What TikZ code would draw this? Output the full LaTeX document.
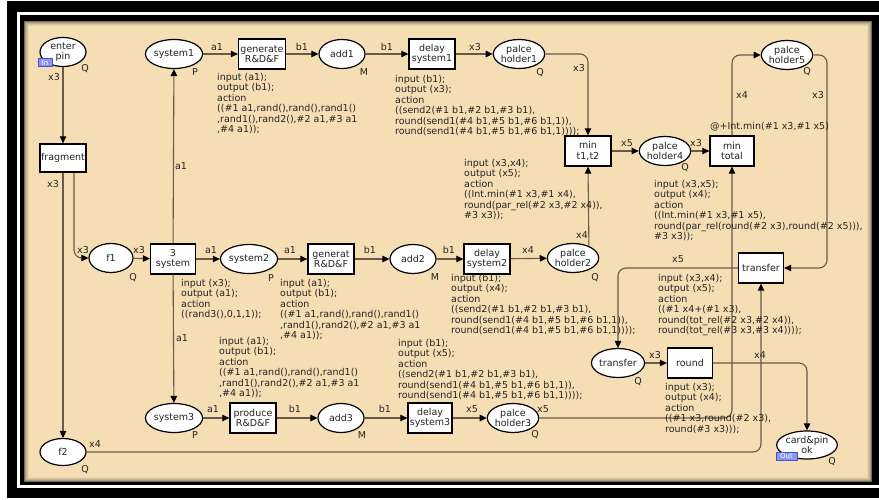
\documentclass[tikz,border=0pt]{standalone}
\usepackage{fontspec}
\setmainfont{DejaVu Sans}
\usetikzlibrary{shapes.geometric,arrows.meta}
\definecolor{beige}{RGB}{246,222,180}
\definecolor{linec}{RGB}{105,90,72}
\definecolor{txtc}{RGB}{35,35,35}
\definecolor{tagfill}{RGB}{140,150,235}
\definecolor{tagdraw}{RGB}{70,80,215}
\newcommand\cpnf{\fontsize{9.5}{10.4}\selectfont}
\tikzset{
  place/.style={ellipse, draw=black, line width=1.2pt, fill=white, inner sep=0pt,
    minimum width=46pt, minimum height=29pt, align=center, font=\cpnf, text=txtc},
  trans/.style={rectangle, draw=black, line width=1.3pt, fill=white, inner sep=0pt,
    minimum width=46pt, minimum height=30pt, align=center, font=\cpnf, text=txtc},
  arc/.style={draw=linec, line width=1.1pt,
    -{Triangle[length=7pt,width=6.5pt,color=black,fill=black]}},
  bent/.style={arc, rounded corners=8pt},
  lab/.style={font=\cpnf, inner sep=0pt, text=txtc},
  ann/.style={font=\cpnf, align=left, anchor=north west, inner sep=0pt, text=txtc},
  iotag/.style={rectangle, fill=tagfill, draw=tagdraw, line width=0.7pt, inner sep=0.6pt,
    minimum height=8pt, font=\fontsize{7}{7}\selectfont, text=white}
}
\begin{document}
\begin{tikzpicture}[x=1pt,y=-1pt]
\useasboundingbox (0,0) rectangle (879,500);
% frame
\fill[white] (0,0) rectangle (879,500);
\fill[black] (7,1) rectangle (879,498);
\draw[white, line width=2.5pt] (882,13.5) -- (18.5,13.5) -- (18.5,486.5) -- (882,486.5);
\fill[beige] (24,21) rectangle (872,482);
\foreach \i/\o in {0.5/0.5,1.5/0.32,2.5/0.2,3.5/0.11,4.5/0.05}
  \draw[black, opacity=\o, line width=1pt] (24+\i,21+\i) rectangle (872-\i,482-\i);

% places
\node[place] (enterpin) at (63,52) {enter\\pin};
\node[place] (system1) at (174,54) {system1};
\node[place] (add1) at (342,54) {add1};
\node[place] (ph1) at (519,54) {palce\\holder1};
\node[place] (ph5) at (787,55) {palce\\holder5};
\node[place] (ph4) at (665,151) {palce\\holder4};
\node[place, minimum width=44pt] (f1) at (111,258) {f1};
\node[place] (system2) at (249,259) {system2};
\node[place] (add2) at (413,259) {add2};
\node[place, minimum width=47pt] (ph2) at (573,258) {palce\\holder2};
\node[place] (transferP) at (618,363) {transfer};
\node[place] (system3) at (174,418) {system3};
\node[place] (add3) at (341,418) {add3};
\node[place] (ph3) at (513,418) {palce\\holder3};
\node[place, minimum height=27pt] (f2) at (63,452) {f2};
\node[place, minimum width=51pt, minimum height=28pt] (card) at (807,445) {card\&pin\\ok};

% transitions
\node[trans, minimum height=28pt] (fragment) at (63,158) {fragment};
\node[trans, minimum width=47pt] (gen1) at (262,54) {generate\\R\&D\&F};
\node[trans] (delay1) at (432,54) {delay\\system1};
\node[trans] (mint12) at (588,151) {min\\t1,t2};
\node[trans, minimum width=44pt] (mintotal) at (732,151) {min\\total};
\node[trans, minimum width=45pt] (sys3) at (173,259) {3\\system};
\node[trans] (gen2) at (331,259) {generat\\R\&D\&F};
\node[trans] (delay2) at (487,259) {delay\\system2};
\node[trans, minimum width=45pt] (transferT) at (761,268) {transfer};
\node[trans, minimum width=45pt] (round) at (690,363) {round};
\node[trans] (prod) at (253,418) {produce\\R\&D\&F};
\node[trans, minimum width=44pt] (delay3) at (430,418) {delay\\system3};

% io tags
\node[iotag, minimum width=14pt] (intag) at (45,62.5) {In};
\node[iotag, minimum width=21pt] (outtag) at (786.5,456) {Out};

% arcs
\draw[arc] (enterpin) -- (fragment);
\draw[arc] (fragment.south) -- (f2.north);
\draw[bent] ([xshift=11pt]fragment.south) -- ([xshift=11pt]fragment.south |- f1.west) -- (f1.west);
\draw[arc] (f1) -- (sys3);
\draw[arc] (sys3) -- (system1);
\draw[arc] (sys3) -- (system2);
\draw[arc] (sys3) -- (system3);
\draw[arc] (system1) -- (gen1);
\draw[arc] (gen1) -- (add1);
\draw[arc] (add1) -- (delay1);
\draw[arc] (delay1) -- (ph1);
\draw[bent] (ph1.east) -- (mint12.north |- ph1.east) -- (mint12.north);
\draw[arc] (system2) -- (gen2);
\draw[arc] (gen2) -- (add2);
\draw[arc] (add2) -- (delay2);
\draw[arc] (delay2) -- (ph2);
\draw[arc] (ph2.37) -- (mint12.south);
\draw[arc] (mint12) -- (ph4);
\draw[arc] (ph4) -- (mintotal);
\draw[bent] (mintotal.north) -- (mintotal.north |- ph5.west) -- (ph5.west);
\draw[bent] (ph5.east) -- (827,55) -- (827,268) -- (transferT.east);
\draw[bent] (transferT.west) -- (transferP.north |- transferT.west) -- (transferP.north);
\draw[arc] (transferP) -- (round);
\draw[bent] (round.east) -- (card.north |- round.east) -- (card.north);
\draw[bent] (ph3.east) -- (mintotal.south |- ph3.east) -- (mintotal.south);
\draw[bent] (f2.east) -- (transferT.south |- f2.east) -- (transferT.south);
\draw[arc] (system3) -- (prod);
\draw[arc] (prod) -- (add3);
\draw[arc] (add3) -- (delay3);
\draw[arc] (delay3) -- (ph3);

% arc labels
\node[lab] (l1) at (54,77) {x3};
\node[lab] (l2) at (53,184) {x3};
\node[lab] (l3) at (83,250) {x3};
\node[lab] (l4) at (139,250) {x3};
\node[lab] (l5) at (181,166) {a1};
\node[lab] (l6) at (211,250) {a1};
\node[lab] (l7) at (182,338) {a1};
\node[lab] (l8) at (217,47) {a1};
\node[lab] (l9) at (302,47) {b1};
\node[lab] (l10) at (387,47) {b1};
\node[lab] (l11) at (475,47) {x3};
\node[lab] (l12) at (579,68) {x3};
\node[lab] (l13) at (290,250) {a1};
\node[lab] (l14) at (370,250) {b1};
\node[lab] (l15) at (449,250) {b1};
\node[lab] (l16) at (528,250) {x4};
\node[lab] (l17) at (582,235) {x4};
\node[lab] (l18) at (627,143) {x5};
\node[lab] (l19) at (696,143) {x3};
\node[lab] (l20) at (742,95) {x4};
\node[lab] (l21) at (818,95) {x3};
\node[lab] (l22) at (678,259) {x5};
\node[lab] (l23) at (655,355) {x3};
\node[lab] (l24) at (760,355) {x4};
\node[lab] (l25) at (543,409) {x5};
\node[lab] (l26) at (95,444) {x4};
\node[lab] (l27) at (213,409) {a1};
\node[lab] (l28) at (295,409) {b1};
\node[lab] (l29) at (385,409) {b1};
\node[lab] (l30) at (472,409) {x5};
\node[lab, anchor=west] (guard) at (710,127) {@+Int.min(\#1 x3,\#1 x5)};

% colour-set labels
\node[lab] (q1) at (85,69) {Q};
\node[lab] (q2) at (195,72) {P};
\node[lab] (q3) at (364,72) {M};
\node[lab] (q4) at (540,73) {Q};
\node[lab] (q5) at (685,168) {Q};
\node[lab] (q6) at (807,72) {Q};
\node[lab] (q7) at (133,278) {Q};
\node[lab] (q8) at (271,278) {P};
\node[lab] (q9) at (435,277) {M};
\node[lab] (q10) at (595,278) {Q};
\node[lab] (q11) at (638,382) {Q};
\node[lab] (q12) at (195,435) {P};
\node[lab] (q13) at (362,435) {M};
\node[lab] (q14) at (535,435) {Q};
\node[lab] (q15) at (85,470) {Q};
\node[lab] (q16) at (832,462) {Q};

% code segments
\node[ann] (tgen1) at (217,73) {input (a1);\\output (b1);\\action\\((\#1 a1,rand(),rand(),rand1()\\,rand1(),rand2(),\#2 a1,\#3 a1\\,\#4 a1));};
\node[ann] (tdelay1) at (395,75) {input (b1);\\output (x3);\\action\\((send2(\#1 b1,\#2 b1,\#3 b1),\\round(send1(\#4 b1,\#5 b1,\#6 b1,1)),\\round(send1(\#4 b1,\#5 b1,\#6 b1,1))));};
\node[ann] (tmint12) at (464,159) {input (x3,x4);\\output (x5);\\action\\((Int.min(\#1 x3,\#1 x4),\\round(par\_rel(\#2 x3,\#2 x4)),\\\#3 x3));};
\node[ann] (tmintotal) at (654,180) {input (x3,x5);\\output (x4);\\action\\((Int.min(\#1 x3,\#1 x5),\\round(par\_rel(round(\#2 x3),round(\#2 x5))),\\\#3 x3));};
\node[ann] (tsys3) at (181,279) {input (x3);\\output (a1);\\action\\((rand3(),0,1,1));};
\node[ann] (tgen2) at (280,279) {input (a1);\\output (b1);\\action\\((\#1 a1,rand(),rand(),rand1()\\,rand1(),rand2(),\#2 a1,\#3 a1\\,\#4 a1));};
\node[ann] (tdelay2) at (451,274) {input (b1);\\output (x4);\\action\\((send2(\#1 b1,\#2 b1,\#3 b1),\\round(send1(\#4 b1,\#5 b1,\#6 b1,1)),\\round(send1(\#4 b1,\#5 b1,\#6 b1,1))));};
\node[ann] (ttransfer) at (658,274) {input (x3,x4);\\output (x5);\\action\\((\#1 x4+(\#1 x3),\\round(tot\_rel(\#2 x3,\#2 x4)),\\round(tot\_rel(\#3 x3,\#3 x4))));};
\node[ann] (tprod) at (219,337) {input (a1);\\output (b1);\\action\\((\#1 a1,rand(),rand(),rand1()\\,rand1(),rand2(),\#2 a1,\#3 a1\\,\#4 a1));};
\node[ann] (tdelay3) at (398,339) {input (b1);\\output (x5);\\action\\((send2(\#1 b1,\#2 b1,\#3 b1),\\round(send1(\#4 b1,\#5 b1,\#6 b1,1)),\\round(send1(\#4 b1,\#5 b1,\#6 b1,1))));};
\node[ann] (tround) at (665,383) {input (x3);\\output (x4);\\action\\((\#1 x3,round(\#2 x3),\\round(\#3 x3)));};
\end{tikzpicture}
\end{document}
